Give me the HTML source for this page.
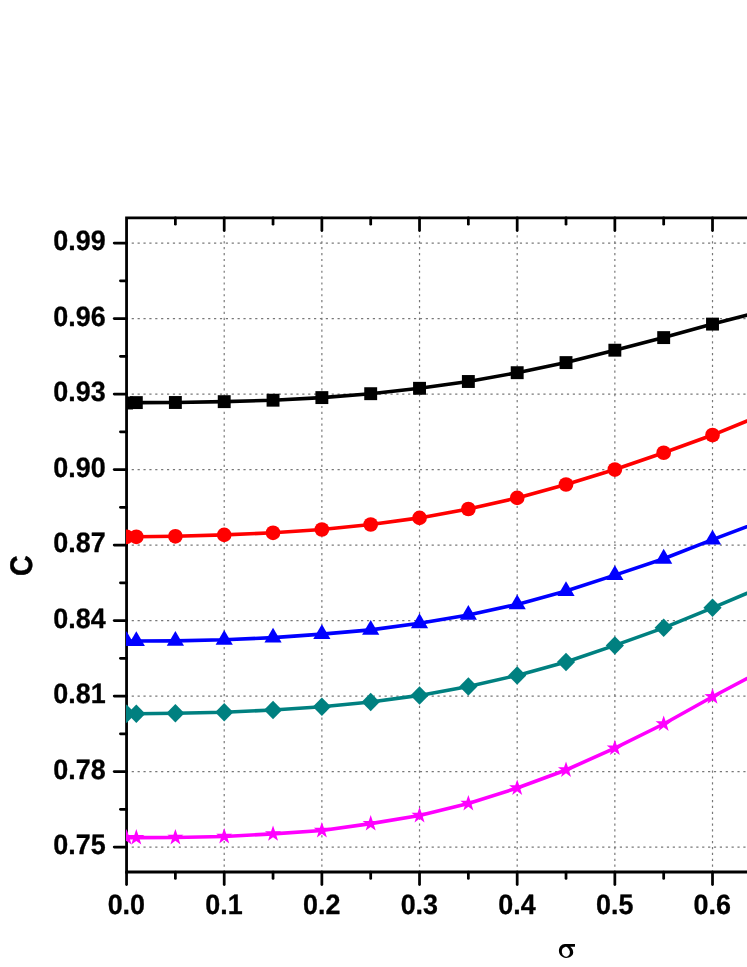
<!DOCTYPE html>
<html><head><meta charset="utf-8"><title>chart</title>
<style>html,body{margin:0;padding:0;background:#fff;}svg{display:block;will-change:transform;}</style>
</head><body>
<svg width="747" height="967" viewBox="0 0 747 967">
<rect width="747" height="967" fill="#ffffff"/>
<g stroke="#787878" stroke-width="1.2" stroke-dasharray="2.2 3.681" fill="none"><line x1="224.21" y1="217.71" x2="224.21" y2="872"/><line x1="321.87" y1="217.71" x2="321.87" y2="872"/><line x1="419.53" y1="217.71" x2="419.53" y2="872"/><line x1="517.19" y1="217.71" x2="517.19" y2="872"/><line x1="614.85" y1="217.71" x2="614.85" y2="872"/><line x1="712.51" y1="217.71" x2="712.51" y2="872"/><line x1="125.82" y1="847.1" x2="752" y2="847.1"/><line x1="125.82" y1="771.59" x2="752" y2="771.59"/><line x1="125.82" y1="696.09" x2="752" y2="696.09"/><line x1="125.82" y1="620.58" x2="752" y2="620.58"/><line x1="125.82" y1="545.07" x2="752" y2="545.07"/><line x1="125.82" y1="469.56" x2="752" y2="469.56"/><line x1="125.82" y1="394.06" x2="752" y2="394.06"/><line x1="125.82" y1="318.55" x2="752" y2="318.55"/><line x1="125.82" y1="243.04" x2="752" y2="243.04"/></g>
<clipPath id="c"><rect x="125.95" y="217.9" width="700" height="654.1"/></clipPath>
<g stroke="#000" stroke-width="2.8" fill="none" stroke-linecap="butt"><path d="M126.55 216.5 V873.4 M126.55 217.9 H752 M126.55 872 H752" /></g>
<g stroke="#000" stroke-width="2.75" stroke-linecap="round"><line x1="114.2" y1="847.1" x2="126.55" y2="847.1"/><line x1="114.2" y1="771.59" x2="126.55" y2="771.59"/><line x1="114.2" y1="696.09" x2="126.55" y2="696.09"/><line x1="114.2" y1="620.58" x2="126.55" y2="620.58"/><line x1="114.2" y1="545.07" x2="126.55" y2="545.07"/><line x1="114.2" y1="469.56" x2="126.55" y2="469.56"/><line x1="114.2" y1="394.06" x2="126.55" y2="394.06"/><line x1="114.2" y1="318.55" x2="126.55" y2="318.55"/><line x1="114.2" y1="243.04" x2="126.55" y2="243.04"/><line x1="120.4" y1="809.35" x2="126.55" y2="809.35"/><line x1="120.4" y1="733.84" x2="126.55" y2="733.84"/><line x1="120.4" y1="658.33" x2="126.55" y2="658.33"/><line x1="120.4" y1="582.83" x2="126.55" y2="582.83"/><line x1="120.4" y1="507.32" x2="126.55" y2="507.32"/><line x1="120.4" y1="431.81" x2="126.55" y2="431.81"/><line x1="120.4" y1="356.3" x2="126.55" y2="356.3"/><line x1="120.4" y1="280.8" x2="126.55" y2="280.8"/><line x1="126.55" y1="872" x2="126.55" y2="884.5"/><line x1="175.38" y1="872" x2="175.38" y2="878.4"/><line x1="175.38" y1="217.9" x2="175.38" y2="224.2"/><line x1="224.21" y1="872" x2="224.21" y2="884.5"/><line x1="224.21" y1="217.9" x2="224.21" y2="230.5"/><line x1="273.04" y1="872" x2="273.04" y2="878.4"/><line x1="273.04" y1="217.9" x2="273.04" y2="224.2"/><line x1="321.87" y1="872" x2="321.87" y2="884.5"/><line x1="321.87" y1="217.9" x2="321.87" y2="230.5"/><line x1="370.7" y1="872" x2="370.7" y2="878.4"/><line x1="370.7" y1="217.9" x2="370.7" y2="224.2"/><line x1="419.53" y1="872" x2="419.53" y2="884.5"/><line x1="419.53" y1="217.9" x2="419.53" y2="230.5"/><line x1="468.36" y1="872" x2="468.36" y2="878.4"/><line x1="468.36" y1="217.9" x2="468.36" y2="224.2"/><line x1="517.19" y1="872" x2="517.19" y2="884.5"/><line x1="517.19" y1="217.9" x2="517.19" y2="230.5"/><line x1="566.02" y1="872" x2="566.02" y2="878.4"/><line x1="566.02" y1="217.9" x2="566.02" y2="224.2"/><line x1="614.85" y1="872" x2="614.85" y2="884.5"/><line x1="614.85" y1="217.9" x2="614.85" y2="230.5"/><line x1="663.68" y1="872" x2="663.68" y2="878.4"/><line x1="663.68" y1="217.9" x2="663.68" y2="224.2"/><line x1="712.51" y1="872" x2="712.51" y2="884.5"/><line x1="712.51" y1="217.9" x2="712.51" y2="230.5"/></g>
<g clip-path="url(#c)"><g fill="#000000" stroke="none"><polyline points="126.55,403 136.32,402.6 175.38,402.5 224.21,401.65 273.04,400.2 321.87,397.6 370.7,393.7 419.53,388.3 468.36,381.5 517.19,372.7 566.02,362.6 614.85,350.2 663.68,337.6 712.51,324.1 761.34,311.4" fill="none" stroke="#000000" stroke-width="3.6" stroke-linejoin="round"/><rect x="120.1" y="396.55" width="12.9" height="12.9"/><rect x="129.87" y="396.15" width="12.9" height="12.9"/><rect x="168.93" y="396.05" width="12.9" height="12.9"/><rect x="217.76" y="395.2" width="12.9" height="12.9"/><rect x="266.59" y="393.75" width="12.9" height="12.9"/><rect x="315.42" y="391.15" width="12.9" height="12.9"/><rect x="364.25" y="387.25" width="12.9" height="12.9"/><rect x="413.08" y="381.85" width="12.9" height="12.9"/><rect x="461.91" y="375.05" width="12.9" height="12.9"/><rect x="510.74" y="366.25" width="12.9" height="12.9"/><rect x="559.57" y="356.15" width="12.9" height="12.9"/><rect x="608.4" y="343.75" width="12.9" height="12.9"/><rect x="657.23" y="331.15" width="12.9" height="12.9"/><rect x="706.06" y="317.65" width="12.9" height="12.9"/><rect x="754.89" y="304.95" width="12.9" height="12.9"/></g><g fill="#ff0000" stroke="none"><polyline points="126.55,536.8 136.32,536.8 175.38,536.3 224.21,534.85 273.04,532.8 321.87,529.5 370.7,524.5 419.53,517.9 468.36,509 517.19,497.9 566.02,484.5 614.85,469.55 663.68,452.75 712.51,435.05 761.34,415.2" fill="none" stroke="#ff0000" stroke-width="3.6" stroke-linejoin="round"/><circle cx="126.55" cy="536.8" r="7.35"/><circle cx="136.32" cy="536.8" r="7.35"/><circle cx="175.38" cy="536.3" r="7.35"/><circle cx="224.21" cy="534.85" r="7.35"/><circle cx="273.04" cy="532.8" r="7.35"/><circle cx="321.87" cy="529.5" r="7.35"/><circle cx="370.7" cy="524.5" r="7.35"/><circle cx="419.53" cy="517.9" r="7.35"/><circle cx="468.36" cy="509" r="7.35"/><circle cx="517.19" cy="497.9" r="7.35"/><circle cx="566.02" cy="484.5" r="7.35"/><circle cx="614.85" cy="469.55" r="7.35"/><circle cx="663.68" cy="452.75" r="7.35"/><circle cx="712.51" cy="435.05" r="7.35"/><circle cx="761.34" cy="415.2" r="7.35"/></g><g fill="#0000ff" stroke="none"><polyline points="126.55,641 136.32,641 175.38,640.85 224.21,639.8 273.04,637.6 321.87,634.1 370.7,629.9 419.53,623.2 468.36,614.9 517.19,604.4 566.02,591 614.85,575.1 663.68,558.7 712.51,539.6 761.34,521.3" fill="none" stroke="#0000ff" stroke-width="3.6" stroke-linejoin="round"/><path d="M126.55 631.15 L135.15 645.95 L117.95 645.95 Z"/><path d="M136.32 631.15 L144.92 645.95 L127.72 645.95 Z"/><path d="M175.38 631 L183.98 645.8 L166.78 645.8 Z"/><path d="M224.21 629.95 L232.81 644.75 L215.61 644.75 Z"/><path d="M273.04 627.75 L281.64 642.55 L264.44 642.55 Z"/><path d="M321.87 624.25 L330.47 639.05 L313.27 639.05 Z"/><path d="M370.7 620.05 L379.3 634.85 L362.1 634.85 Z"/><path d="M419.53 613.35 L428.13 628.15 L410.93 628.15 Z"/><path d="M468.36 605.05 L476.96 619.85 L459.76 619.85 Z"/><path d="M517.19 594.55 L525.79 609.35 L508.59 609.35 Z"/><path d="M566.02 581.15 L574.62 595.95 L557.42 595.95 Z"/><path d="M614.85 565.25 L623.45 580.05 L606.25 580.05 Z"/><path d="M663.68 548.85 L672.28 563.65 L655.08 563.65 Z"/><path d="M712.51 529.75 L721.11 544.55 L703.91 544.55 Z"/><path d="M761.34 511.45 L769.94 526.25 L752.74 526.25 Z"/></g><g fill="#008080" stroke="none"><polyline points="126.55,713.75 136.32,713.75 175.38,713.3 224.21,712.2 273.04,709.95 321.87,706.75 370.7,702 419.53,695.4 468.36,686.4 517.19,675.4 566.02,661.95 614.85,645.4 663.68,627.85 712.51,607.8 761.34,587.1" fill="none" stroke="#008080" stroke-width="3.6" stroke-linejoin="round"/><path d="M126.55 704.5 L135.65 713.75 L126.55 723 L117.45 713.75 Z"/><path d="M136.32 704.5 L145.42 713.75 L136.32 723 L127.22 713.75 Z"/><path d="M175.38 704.05 L184.48 713.3 L175.38 722.55 L166.28 713.3 Z"/><path d="M224.21 702.95 L233.31 712.2 L224.21 721.45 L215.11 712.2 Z"/><path d="M273.04 700.7 L282.14 709.95 L273.04 719.2 L263.94 709.95 Z"/><path d="M321.87 697.5 L330.97 706.75 L321.87 716 L312.77 706.75 Z"/><path d="M370.7 692.75 L379.8 702 L370.7 711.25 L361.6 702 Z"/><path d="M419.53 686.15 L428.63 695.4 L419.53 704.65 L410.43 695.4 Z"/><path d="M468.36 677.15 L477.46 686.4 L468.36 695.65 L459.26 686.4 Z"/><path d="M517.19 666.15 L526.29 675.4 L517.19 684.65 L508.09 675.4 Z"/><path d="M566.02 652.7 L575.12 661.95 L566.02 671.2 L556.92 661.95 Z"/><path d="M614.85 636.15 L623.95 645.4 L614.85 654.65 L605.75 645.4 Z"/><path d="M663.68 618.6 L672.78 627.85 L663.68 637.1 L654.58 627.85 Z"/><path d="M712.51 598.55 L721.61 607.8 L712.51 617.05 L703.41 607.8 Z"/><path d="M761.34 577.85 L770.44 587.1 L761.34 596.35 L752.24 587.1 Z"/></g><g fill="#ff00ff" stroke="none"><polyline points="126.55,837.6 136.32,837.6 175.38,837.5 224.21,836.5 273.04,833.9 321.87,830.5 370.7,823.6 419.53,815.5 468.36,803.5 517.19,788 566.02,770 614.85,748.1 663.68,724 712.51,696.8 761.34,670.8" fill="none" stroke="#ff00ff" stroke-width="3.6" stroke-linejoin="round"/><path d="M126.55 829.1 L128.52 834.88 L134.63 834.97 L129.74 838.64 L131.55 844.48 L126.55 840.96 L121.55 844.48 L123.36 838.64 L118.47 834.97 L124.58 834.88 Z"/><path d="M136.32 829.1 L138.29 834.88 L144.4 834.97 L139.51 838.64 L141.31 844.48 L136.32 840.96 L131.32 844.48 L133.12 838.64 L128.23 834.97 L134.34 834.88 Z"/><path d="M175.38 829 L177.35 834.78 L183.46 834.87 L178.57 838.54 L180.38 844.38 L175.38 840.86 L170.38 844.38 L172.19 838.54 L167.3 834.87 L173.41 834.78 Z"/><path d="M224.21 828 L226.18 833.78 L232.29 833.87 L227.4 837.54 L229.21 843.38 L224.21 839.86 L219.21 843.38 L221.02 837.54 L216.13 833.87 L222.24 833.78 Z"/><path d="M273.04 825.4 L275.01 831.18 L281.12 831.27 L276.23 834.94 L278.04 840.78 L273.04 837.26 L268.04 840.78 L269.85 834.94 L264.96 831.27 L271.07 831.18 Z"/><path d="M321.87 822 L323.84 827.78 L329.95 827.87 L325.06 831.54 L326.87 837.38 L321.87 833.86 L316.87 837.38 L318.68 831.54 L313.79 827.87 L319.9 827.78 Z"/><path d="M370.7 815.1 L372.67 820.88 L378.78 820.97 L373.89 824.64 L375.7 830.48 L370.7 826.96 L365.7 830.48 L367.51 824.64 L362.62 820.97 L368.73 820.88 Z"/><path d="M419.53 807 L421.5 812.78 L427.61 812.87 L422.72 816.54 L424.53 822.38 L419.53 818.86 L414.53 822.38 L416.34 816.54 L411.45 812.87 L417.56 812.78 Z"/><path d="M468.36 795 L470.33 800.78 L476.44 800.87 L471.55 804.54 L473.36 810.38 L468.36 806.86 L463.36 810.38 L465.17 804.54 L460.28 800.87 L466.39 800.78 Z"/><path d="M517.19 779.5 L519.16 785.28 L525.27 785.37 L520.38 789.04 L522.19 794.88 L517.19 791.36 L512.19 794.88 L514 789.04 L509.11 785.37 L515.22 785.28 Z"/><path d="M566.02 761.5 L567.99 767.28 L574.1 767.37 L569.21 771.04 L571.02 776.88 L566.02 773.36 L561.02 776.88 L562.83 771.04 L557.94 767.37 L564.05 767.28 Z"/><path d="M614.85 739.6 L616.82 745.38 L622.93 745.47 L618.04 749.14 L619.85 754.98 L614.85 751.46 L609.85 754.98 L611.66 749.14 L606.77 745.47 L612.88 745.38 Z"/><path d="M663.68 715.5 L665.65 721.28 L671.76 721.37 L666.87 725.04 L668.68 730.88 L663.68 727.36 L658.68 730.88 L660.49 725.04 L655.6 721.37 L661.71 721.28 Z"/><path d="M712.51 688.3 L714.48 694.08 L720.59 694.17 L715.7 697.84 L717.51 703.68 L712.51 700.16 L707.51 703.68 L709.32 697.84 L704.43 694.17 L710.54 694.08 Z"/><path d="M761.34 662.3 L763.31 668.08 L769.42 668.17 L764.53 671.84 L766.34 677.68 L761.34 674.16 L756.34 677.68 L758.15 671.84 L753.26 668.17 L759.37 668.08 Z"/></g></g>
<g font-family="'Liberation Sans', sans-serif" font-weight="bold" font-size="26.9" fill="#000" stroke="#000" stroke-width="0.3" stroke-linejoin="round" text-rendering="geometricPrecision"><text transform="translate(105.7 854.15) scale(1 1.04)" text-anchor="end">0.75</text><text transform="translate(105.7 778.64) scale(1 1.04)" text-anchor="end">0.78</text><text transform="translate(105.7 703.14) scale(1 1.04)" text-anchor="end">0.81</text><text transform="translate(105.7 627.63) scale(1 1.04)" text-anchor="end">0.84</text><text transform="translate(105.7 552.12) scale(1 1.04)" text-anchor="end">0.87</text><text transform="translate(105.7 476.61) scale(1 1.04)" text-anchor="end">0.90</text><text transform="translate(105.7 401.11) scale(1 1.04)" text-anchor="end">0.93</text><text transform="translate(105.7 325.6) scale(1 1.04)" text-anchor="end">0.96</text><text transform="translate(105.7 250.09) scale(1 1.04)" text-anchor="end">0.99</text><text transform="translate(126.35 913.5) scale(1 1.04)" text-anchor="middle">0.0</text><text transform="translate(224.01 913.5) scale(1 1.04)" text-anchor="middle">0.1</text><text transform="translate(321.67 913.5) scale(1 1.04)" text-anchor="middle">0.2</text><text transform="translate(419.33 913.5) scale(1 1.04)" text-anchor="middle">0.3</text><text transform="translate(516.99 913.5) scale(1 1.04)" text-anchor="middle">0.4</text><text transform="translate(614.65 913.5) scale(1 1.04)" text-anchor="middle">0.5</text><text transform="translate(712.31 913.5) scale(1 1.04)" text-anchor="middle">0.6</text></g>
<text transform="translate(31.7 565.7) rotate(-90) scale(1 1.09)" text-anchor="middle" font-family="'Liberation Sans', sans-serif" font-weight="bold" font-size="28.7" fill="#000" stroke="#000" stroke-width="0.4" text-rendering="geometricPrecision">C</text>
<g fill="#000"><title>σ</title><path d="M574.97 944.03 L574.97 946.84 L570.27 946.84 C572.2 948.3 573.2 950.3 573.2 952.46 C573.2 955.5 570 957.88 566.06 957.88 C562.1 957.88 558.91 954.8 558.91 950.86 C558.91 947 561.5 944.1 564.85 944.05 Z"/><ellipse cx="565.85" cy="951.85" rx="4.0" ry="5.0" transform="rotate(-10 565.85 951.85)" fill="#fff"/></g>
</svg>
</body></html>
